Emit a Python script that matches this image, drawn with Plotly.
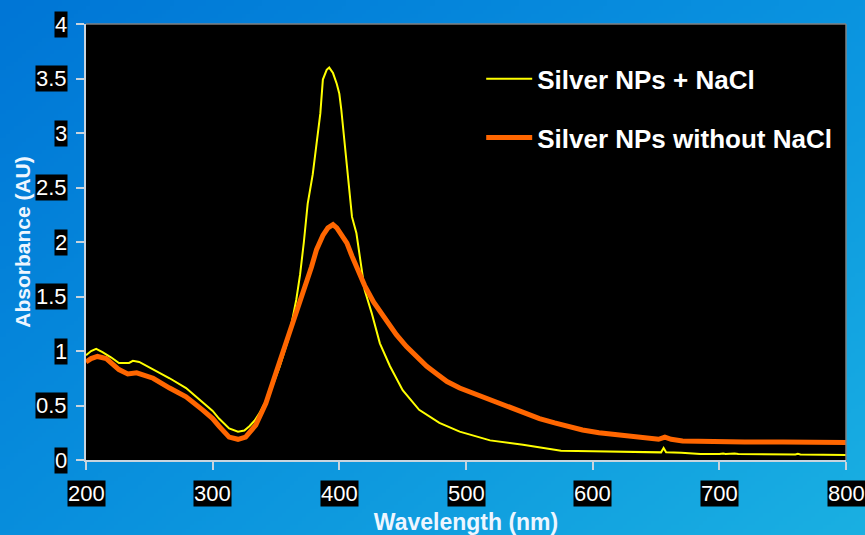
import base64, struct, zlib
import numpy as np
import plotly.graph_objects as go

# ---------------- data ----------------
wl_nacl = [200, 204, 208, 213, 220, 226, 234, 237, 242, 252, 266, 279, 292, 300, 305, 313, 320, 325,
           329, 333, 337, 345, 353, 360, 366, 369, 372, 375, 379, 382, 385, 387, 390, 392, 395, 398,
           400, 401.5, 403.5, 405.5, 408, 410, 413.5, 417.5, 420, 425.5, 432, 440, 450, 463, 479,
           495, 519, 545, 560, 575, 600, 628, 650, 654, 656, 658, 670, 685, 700, 703, 705, 712, 715,
           740, 742, 744, 760, 762, 764, 800]
abs_nacl = [0.96, 1.00, 1.02, 0.99, 0.94, 0.89, 0.89, 0.91, 0.90, 0.84, 0.75, 0.66, 0.535, 0.45, 0.38,
            0.29, 0.26, 0.27, 0.31, 0.36, 0.43, 0.61, 0.86, 1.12, 1.47, 1.70, 2.00, 2.35, 2.62, 2.90,
            3.18, 3.49, 3.58, 3.60, 3.55, 3.45, 3.36, 3.22, 3.00, 2.72, 2.45, 2.23, 2.08, 1.77, 1.56,
            1.35, 1.07, 0.86, 0.64, 0.46, 0.34, 0.26, 0.18, 0.14, 0.11, 0.085, 0.08, 0.072, 0.068,
            0.07, 0.11, 0.07, 0.066, 0.056, 0.055, 0.06, 0.055, 0.06, 0.055, 0.05, 0.056, 0.05, 0.05,
            0.056, 0.05, 0.046]

wl_plain = [200, 204, 209, 216, 226, 233, 240, 253, 266, 279, 292, 300, 305, 313, 320, 326, 334, 342,
            350, 358, 364, 370, 374, 378, 382, 387, 391, 395, 398, 400.5, 406, 410, 415, 420, 427, 435,
            445, 453, 461, 469, 477, 485, 495, 506, 520, 532, 545, 558, 570, 580, 592, 605, 619, 632,
            645, 652, 657, 662, 671, 685, 698, 720, 750, 775, 800]
abs_plain = [0.90, 0.93, 0.95, 0.93, 0.83, 0.79, 0.80, 0.75, 0.66, 0.58, 0.46, 0.38, 0.31, 0.21, 0.19,
             0.21, 0.32, 0.52, 0.80, 1.07, 1.30, 1.50, 1.62, 1.77, 1.93, 2.06, 2.13, 2.16, 2.13, 2.09,
             1.99, 1.87, 1.74, 1.60, 1.45, 1.31, 1.15, 1.04, 0.95, 0.86, 0.79, 0.72, 0.66, 0.61, 0.555,
             0.50, 0.44, 0.38, 0.34, 0.31, 0.275, 0.25, 0.23, 0.21, 0.19, 0.19, 0.21, 0.19, 0.175, 0.17,
             0.168, 0.165, 0.165, 0.163, 0.16]

x_ticks = [200, 300, 400, 500, 600, 700, 800]
x_tick_labels = ["200", "300", "400", "500", "600", "700", "800"]
y_ticks = [0, 0.5, 1, 1.5, 2, 2.5, 3, 3.5, 4]
y_tick_labels = ["0", "0.5", "1", "1.5", "2", "2.5", "3", "3.5", "4"]

names = ["Silver NPs + NaCl", "Silver NPs without NaCl"]

# ---------------- layout geometry ----------------
W, H = 865, 535
ML, MR, MT, MB = 86, 19, 24, 75
PW, PH = W - ML - MR, H - MT - MB

# gradient background image (PNG built by hand)
def gradient_png(w, h):
    tl = np.array([0, 118, 214.0]); tr = np.array([10, 148, 224.0])
    bl = np.array([8, 142, 221.0]); br = np.array([26, 176, 226.0])
    u = np.linspace(0, 1, w)[None, :, None]
    v = np.linspace(0, 1, h)[:, None, None]
    img = (1 - u) * (1 - v) * tl + u * (1 - v) * tr + (1 - u) * v * bl + u * v * br
    img = np.clip(img, 0, 255).astype(np.uint8)
    raw = b"".join(b"\x00" + img[r].tobytes() for r in range(h))
    def chunk(t, d):
        c = struct.pack(">I", len(d)) + t + d
        return c + struct.pack(">I", zlib.crc32(t + d) & 0xffffffff)
    png = b"\x89PNG\r\n\x1a\n" + chunk(b"IHDR", struct.pack(">IIBBBBB", w, h, 8, 2, 0, 0, 0)) \
        + chunk(b"IDAT", zlib.compress(raw, 9)) + chunk(b"IEND", b"")
    return "data:image/png;base64," + base64.b64encode(png).decode()

bg_src = gradient_png(216, 134)

FONT = "Arial, Liberation Sans, sans-serif"

fig = go.Figure()
fig.add_trace(go.Scatter(x=wl_nacl, y=abs_nacl, mode="lines", name=names[0], legendgroup="a",
                         line=dict(color="#FFFF00", width=2)))
fig.add_trace(go.Scatter(x=wl_plain, y=abs_plain, mode="lines", name=names[1], legendgroup="b",
                         line=dict(color="#FF6600", width=5)))

annotations = []
for v, t in zip(x_ticks, x_tick_labels):
    annotations.append(dict(x=v, xref="x", y=0, yref="paper", yanchor="top", yshift=-20,
                            text=t, showarrow=False, bgcolor="black", borderpad=0,
                            font=dict(family=FONT, size=22, color="white")))
for v, t in zip(y_ticks, y_tick_labels):
    annotations.append(dict(x=0, xref="paper", xanchor="right", xshift=-18, y=v, yref="y",
                            yanchor="middle", text=t, showarrow=False, bgcolor="black", borderpad=0,
                            font=dict(family=FONT, size=22, color="white")))

fig.update_layout(
    width=W, height=H,
    margin=dict(l=ML, r=MR, t=MT, b=MB, autoexpand=False),
    paper_bgcolor="#0A92DE",
    plot_bgcolor="black",
    images=[dict(source=bg_src, xref="paper", yref="paper",
                 x=-ML / PW, y=1 + MT / PH, sizex=W / PW, sizey=H / PH,
                 xanchor="left", yanchor="top", sizing="stretch", layer="below")],
    shapes=[
        dict(type="rect", xref="x domain", yref="y domain", x0=0, x1=1, y0=0, y1=1,
             fillcolor="black", line=dict(width=0), layer="below"),
        dict(type="line", xref="x domain", yref="y domain", x0=0, x1=1, y0=1, y1=1,
             line=dict(color="#808080", width=1.5), layer="above"),
        dict(type="line", xref="x domain", yref="y domain", x0=1, x1=1, y0=0, y1=1,
             line=dict(color="#808080", width=1.5), layer="above"),
    ],
    xaxis=dict(range=[200, 800], tickvals=x_ticks, showticklabels=False, ticks="outside",
               ticklen=8, tickcolor="#C8D4DE", tickwidth=1.5, showline=True, linecolor="#C8D4DE",
               linewidth=2, showgrid=False, zeroline=False, automargin=False,
               title=dict(text="<b>Wavelength (nm)</b>", standoff=45,
                          font=dict(family=FONT, size=23, color="#EEF6FF"))),
    yaxis=dict(range=[0, 4], tickvals=y_ticks, showticklabels=False, ticks="outside",
               ticklen=8, tickcolor="#C8D4DE", tickwidth=1.5, showline=True, linecolor="#C8D4DE",
               linewidth=2, showgrid=False, zeroline=False, automargin=False,
               title=dict(text="<b>Absorbance (AU)</b>", standoff=40,
                          font=dict(family=FONT, size=21, color="#EEF6FF"))),
    legend=dict(x=0.52, y=0.928, xanchor="left", yanchor="top", bgcolor="rgba(0,0,0,0)",
                font=dict(family=FONT, size=26, color="white", weight="bold"),
                traceorder="grouped", tracegroupgap=22, itemwidth=46),
    annotations=annotations,
    showlegend=True,
)

fig.write_html("out.html", config={"displayModeBar": False},
               post_script="document.body.style.margin='0';document.body.style.overflow='hidden';")
